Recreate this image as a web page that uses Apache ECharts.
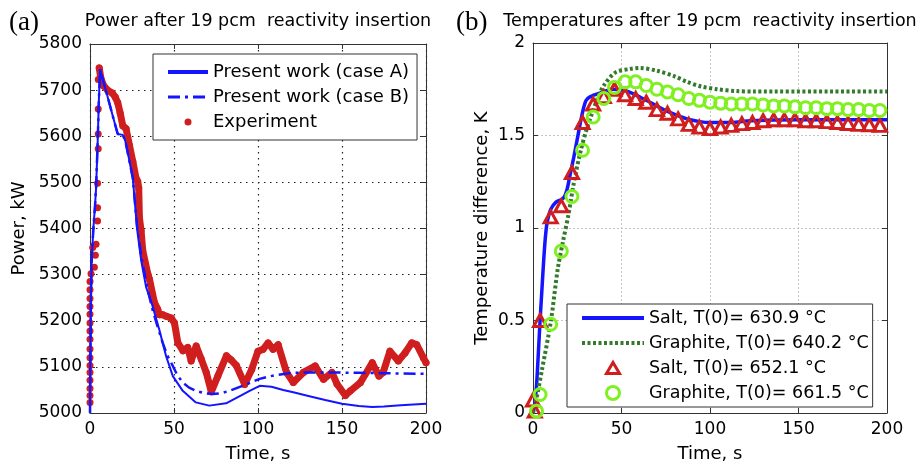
<!DOCTYPE html>
<html><head><meta charset="utf-8">
<script src="https://cdn.jsdelivr.net/npm/echarts@6/dist/echarts.min.js"></script>
<style>html,body{margin:0;padding:0;background:#fff}#c{width:921px;height:468px}</style>
</head><body><div id="c"></div>
<script>
// ---------- tick labels ----------
const timeTicks = [0, 50, 100, 150, 200];
const powerTicks = [5000, 5100, 5200, 5300, 5400, 5500, 5600, 5700, 5800];
const tempTicks = [0, 0.5, 1, 1.5, 2];

// ---------- panel (a): power ----------
const caseATime  = [0,0.5,1,2,3,3.6,4.5,5.3,6,8,10,12,14,16.5,19.5,21,23,25.5,28,30.5,33.4,37,41.3,45.3,49.3,55.2,63,71,81,90,95,101,108,115,121,130,140,150,160,168,175,185,200];
const caseAPower = [5000,5250,5330,5400,5450,5487,5580,5680,5745,5718,5692,5665,5638,5605,5603,5590,5555,5509,5400,5330,5273,5235,5180,5123,5080,5048,5023,5016,5021,5038,5048,5059,5057,5050,5045,5037,5028,5020,5015,5013,5014,5017,5020];

const caseBTime  = [0,0.5,1,2,3,3.6,4.5,5.3,6,8,10,12,14,16.5,19.5,21,23,25.5,28,30.5,34.4,37.3,40,43.3,46,49.3,52,55.2,59,63.2,68,73,78,83,88,93,101,110,120,130,140,160,180,200];
const caseBPower = [5000,5250,5330,5400,5450,5487,5580,5680,5745,5718,5692,5665,5638,5605,5603,5590,5555,5509,5405,5340,5266,5223,5190,5152,5125,5102,5082,5066,5055,5048,5043,5041,5043,5048,5055,5062,5074,5082,5087,5088,5088,5087,5086,5085];

// experiment: first the sparse rising samples, then the dense record
const expRiseCount = 28;
const expTime  = [0,0,0,0,0,0,0,0,0,0,0,0,0,0,0,0,0.6,2.6,3.2,1.6,3.6,4.5,4.5,4.5,4.9,4.9,4.9,4.9,
  5.5,6.5,8.2,10.5,13.2,15,16.5,18,19.5,21.5,23.5,25.5,27.4,28.4,29,29.4,30.4,31.4,34.4,35.4,38.3,40.3,41.3,43.3,45.3,48.3,50.3,52.3,55.3,58.2,60.2,63.2,66.2,69.2,72.2,76.2,81.2,84,87.1,92.1,96.3,100,103,106,109,112,117,121,127,134,139,144,147,152,155,161,168,172,174.5,178.5,183.5,187.5,191.5,194.5,198.4,200];
const expPower = [5023,5038,5053,5071,5088,5103,5120,5139,5160,5178,5195,5214,5231,5248,5267,5285,5302,5316,5342,5359,5366,5416,5445,5498,5573,5605,5659,5723,
  5748,5725,5709,5700,5694,5685,5673,5650,5623,5616,5580,5545,5509,5502,5488,5424,5395,5352,5302,5290,5240,5225,5213,5213,5210,5206,5195,5152,5135,5142,5113,5145,5117,5088,5046,5081,5124,5115,5103,5062,5095,5134,5138,5152,5138,5148,5088,5066,5088,5102,5073,5088,5063,5038,5048,5066,5109,5080,5088,5134,5113,5130,5152,5148,5120,5109];

// ---------- panel (b): temperature difference ----------
const saltModelTime = [0,1,2,3,4,5,6,7,8,10,13,17,19,21,23,25,27,28.6,30,32.4,38,45,53,62,70,76,87,100,112,123,150,175,200];
const saltModelDT   = [0,0.05,0.15,0.32,0.5,0.66,0.82,0.95,1.03,1.10,1.14,1.16,1.20,1.29,1.38,1.48,1.58,1.65,1.69,1.71,1.73,1.75,1.74,1.70,1.66,1.63,1.59,1.57,1.57,1.58,1.585,1.585,1.585];

const graphModelTime = [0,2,5,10,14,17,20,23,27,30.5,33,36,40,46.5,55,60,70,80,87,95,104,115,125,200];
const graphModelDT   = [0,0.08,0.23,0.49,0.78,0.93,1.07,1.24,1.42,1.54,1.61,1.69,1.77,1.84,1.86,1.865,1.85,1.82,1.79,1.765,1.75,1.74,1.738,1.738];

const saltExpTime = [0,1,4,10,16,22,28,34,40,46,52,58,64,70,76,82,88,94,100,106,112,118,124,130,136,142,148,154,160,166,172,178,184,190,196];
const saltExpDT   = [0.07,0.01,0.50,1.06,1.12,1.30,1.57,1.67,1.71,1.75,1.72,1.70,1.68,1.64,1.62,1.59,1.56,1.545,1.537,1.546,1.555,1.564,1.57,1.58,1.585,1.585,1.585,1.58,1.58,1.575,1.57,1.565,1.56,1.558,1.555];

const graphExpTime = [2,4,10,16,22,28,34,40,46,52,58,64,70,76,82,88,94,100,106,112,118,124,130,136,142,148,154,160,166,172,178,184,190,196];
const graphExpDT   = [0.01,0.10,0.48,0.875,1.17,1.42,1.60,1.70,1.76,1.79,1.79,1.77,1.75,1.735,1.72,1.70,1.69,1.68,1.675,1.67,1.67,1.67,1.665,1.66,1.66,1.655,1.65,1.65,1.645,1.645,1.64,1.64,1.635,1.635];

// ---------- helpers ----------
const zip = (a, b) => a.map((v, i) => [v, b[i]]);
const FONT = 'DejaVu Sans';
const BLUE = '#1414ff', RED = '#d01e1e', DKGREEN = '#347a2c', LTGREEN = '#80f020';
const plain = v => String(v);
// legend triangle drawn inside an invisible 62x13 frame so it keeps its shape
const TRI_ICON = 'path://M0,6.5L0,6.5M62,6.5L62,6.5M24.5,12L31,1L37.5,12Z';

function bottomX(grid, dark) {
  return {
    gridIndex: grid, type: 'value', min: timeTicks[0], max: timeTicks[timeTicks.length - 1],
    interval: timeTicks[1] - timeTicks[0],
    axisLine: { show: true, onZero: false, lineStyle: { color: '#333', width: 1 } },
    axisTick: { show: true, inside: true, length: 5, lineStyle: { color: '#333' } },
    axisLabel: { fontFamily: FONT, fontSize: 17, color: '#000', margin: 8, formatter: plain },
    splitLine: { show: true, lineStyle: dark ? { color: '#222', type: [1.5, 4.5], width: 1.2 } : { color: '#c4c4c4', type: [2, 2], width: 1 } },
    name: 'Time, s', nameLocation: 'middle', nameGap: 32,
    nameTextStyle: { fontFamily: FONT, fontSize: 18, color: '#000' }
  };
}
function topX(grid) {
  return {
    gridIndex: grid, type: 'value', position: 'top', min: timeTicks[0], max: timeTicks[timeTicks.length - 1],
    interval: timeTicks[1] - timeTicks[0],
    axisLine: { show: true, onZero: false, lineStyle: { color: '#333', width: 1 } },
    axisTick: { show: true, inside: true, length: 5, lineStyle: { color: '#333' } },
    axisLabel: { show: false }, splitLine: { show: false }
  };
}
function leftY(grid, ticks, name, gap, dark) {
  return {
    gridIndex: grid, type: 'value', min: ticks[0], max: ticks[ticks.length - 1], interval: ticks[1] - ticks[0],
    axisLine: { show: true, onZero: false, lineStyle: { color: '#333', width: 1 } },
    axisTick: { show: true, inside: true, length: 5, lineStyle: { color: '#333' } },
    axisLabel: { fontFamily: FONT, fontSize: 17, color: '#000', margin: 8, formatter: plain },
    splitLine: { show: true, lineStyle: dark ? { color: '#222', type: [1.5, 4.5], width: 1.2 } : { color: '#c4c4c4', type: [2, 2], width: 1 } },
    name: name, nameLocation: 'middle', nameGap: gap,
    nameTextStyle: { fontFamily: FONT, fontSize: 18, color: '#000' }
  };
}
function rightY(grid, ticks) {
  return {
    gridIndex: grid, type: 'value', position: 'right', min: ticks[0], max: ticks[ticks.length - 1], interval: ticks[1] - ticks[0],
    axisLine: { show: true, onZero: false, lineStyle: { color: '#333', width: 1 } },
    axisTick: { show: true, inside: true, length: 5, lineStyle: { color: '#333' } },
    axisLabel: { show: false }, splitLine: { show: false }
  };
}

const titleStyle = { fontFamily: FONT, fontSize: 17.5, fontWeight: 'normal', color: '#000' };
const tagStyle = { fontFamily: 'Liberation Serif', fontSize: 27, fontWeight: 'normal', color: '#000' };
const noSymbol = { opacity: 0 };

const option = {
  animation: false,
  backgroundColor: '#fff',
  title: [
    { text: '(a)', left: 9, top: 9, padding: 0, textStyle: tagStyle },
    { text: 'Power after 19 pcm  reactivity insertion', left: 258, top: 12, padding: 0, textAlign: 'center', textStyle: titleStyle },
    { text: '(b)', left: 456, top: 9, padding: 0, textStyle: tagStyle },
    { text: 'Temperatures after 19 pcm  reactivity insertion', left: 710, top: 12, padding: 0, textAlign: 'center', textStyle: titleStyle }
  ],
  grid: [
    { left: 90, top: 44, width: 336, height: 374 },
    { left: 533, top: 43, width: 354, height: 374 }
  ],
  xAxis: [bottomX(0, true), topX(0), bottomX(1, false), topX(1)],
  yAxis: [leftY(0, powerTicks, 'Power, kW', 62, true), rightY(0, powerTicks),
          leftY(1, tempTicks, 'Temperature difference, K', 42, false), rightY(1, tempTicks)],
  legend: [
    {
      orient: 'vertical', left: 153, top: 54, padding: [9, 8, 9, 13],
      borderColor: '#333', borderWidth: 1, backgroundColor: '#fff',
      itemWidth: 40, itemHeight: 7, itemGap: 7, symbolKeepAspect: true,
      textStyle: { fontFamily: FONT, fontSize: 18, color: '#000', lineHeight: 18 },
      data: [
        { name: 'Present work (case A)', lineStyle: { width: 4 }, itemStyle: noSymbol },
        { name: 'Present work (case B)', lineStyle: { width: 3 }, itemStyle: noSymbol },
        { name: 'Experiment', icon: 'circle', itemStyle: { color: RED, opacity: 1 } }
      ]
    },
    {
      orient: 'vertical', left: 567, top: 304, padding: [5, 4, 5, 13],
      borderColor: '#333', borderWidth: 1, backgroundColor: '#fff',
      itemWidth: 62, itemHeight: 13, itemGap: 7, symbolKeepAspect: true,
      textStyle: { fontFamily: FONT, fontSize: 17.5, color: '#000', lineHeight: 18 },
      data: [
        { name: 'Salt, T(0)= 630.9 °C', lineStyle: { width: 4 }, itemStyle: noSymbol },
        { name: 'Graphite, T(0)= 640.2 °C', lineStyle: { width: 4 }, itemStyle: noSymbol },
        { name: 'Salt, T(0)= 652.1 °C', icon: TRI_ICON, itemStyle: { color: 'rgba(0,0,0,0)', borderColor: RED, borderWidth: 3, opacity: 1 } },
        { name: 'Graphite, T(0)= 661.5 °C', icon: 'circle', itemStyle: { color: 'rgba(0,0,0,0)', borderColor: LTGREEN, borderWidth: 3, opacity: 1 } }
      ]
    }
  ],
  series: [
    // panel (a)
    { name: 'Experiment', type: 'scatter', xAxisIndex: 0, yAxisIndex: 0, data: zip(expTime, expPower),
      symbol: 'circle', symbolSize: 7, itemStyle: { color: RED, opacity: 1 }, z: 2 },
    { name: 'Experiment', type: 'line', xAxisIndex: 0, yAxisIndex: 0,
      data: zip(expTime, expPower).slice(expRiseCount), symbol: 'none', showSymbol: false,
      lineStyle: { color: RED, width: 7, cap: 'round', join: 'round' }, itemStyle: { color: RED }, z: 2 },
    { name: 'Present work (case A)', type: 'line', xAxisIndex: 0, yAxisIndex: 0, data: zip(caseATime, caseAPower),
      symbol: 'none', showSymbol: false, lineStyle: { color: BLUE, width: 2 }, itemStyle: { color: BLUE }, z: 3 },
    { name: 'Present work (case B)', type: 'line', xAxisIndex: 0, yAxisIndex: 0, data: zip(caseBTime, caseBPower),
      symbol: 'none', showSymbol: false, lineStyle: { color: BLUE, width: 2.5, type: [12, 5, 3, 5] }, itemStyle: { color: BLUE }, z: 3 },
    // panel (b)
    { name: 'Salt, T(0)= 630.9 °C', type: 'line', xAxisIndex: 2, yAxisIndex: 2, data: zip(saltModelTime, saltModelDT),
      symbol: 'none', showSymbol: false, smooth: 0.3, lineStyle: { color: BLUE, width: 3.5 }, itemStyle: { color: BLUE }, z: 2 },
    { name: 'Graphite, T(0)= 640.2 °C', type: 'line', xAxisIndex: 2, yAxisIndex: 2, data: zip(graphModelTime, graphModelDT),
      symbol: 'none', showSymbol: false, smooth: 0.3, lineStyle: { color: DKGREEN, width: 4, type: [3, 2.5] }, itemStyle: { color: DKGREEN }, z: 3 },
    { name: 'Salt, T(0)= 652.1 °C', type: 'scatter', xAxisIndex: 2, yAxisIndex: 2, data: zip(saltExpTime, saltExpDT),
      symbol: 'triangle', symbolSize: [13, 12], symbolKeepAspect: true,
      itemStyle: { color: 'rgba(0,0,0,0)', borderColor: RED, borderWidth: 3, opacity: 1 }, z: 4 },
    { name: 'Graphite, T(0)= 661.5 °C', type: 'scatter', xAxisIndex: 2, yAxisIndex: 2, data: zip(graphExpTime, graphExpDT),
      symbol: 'circle', symbolSize: 12, symbolKeepAspect: true,
      itemStyle: { color: 'rgba(0,0,0,0)', borderColor: LTGREEN, borderWidth: 3, opacity: 1 }, z: 5 }
  ]
};

const chart = echarts.init(document.getElementById('c'), null, { renderer: 'canvas' });
chart.setOption(option);
</script>
</body></html>
